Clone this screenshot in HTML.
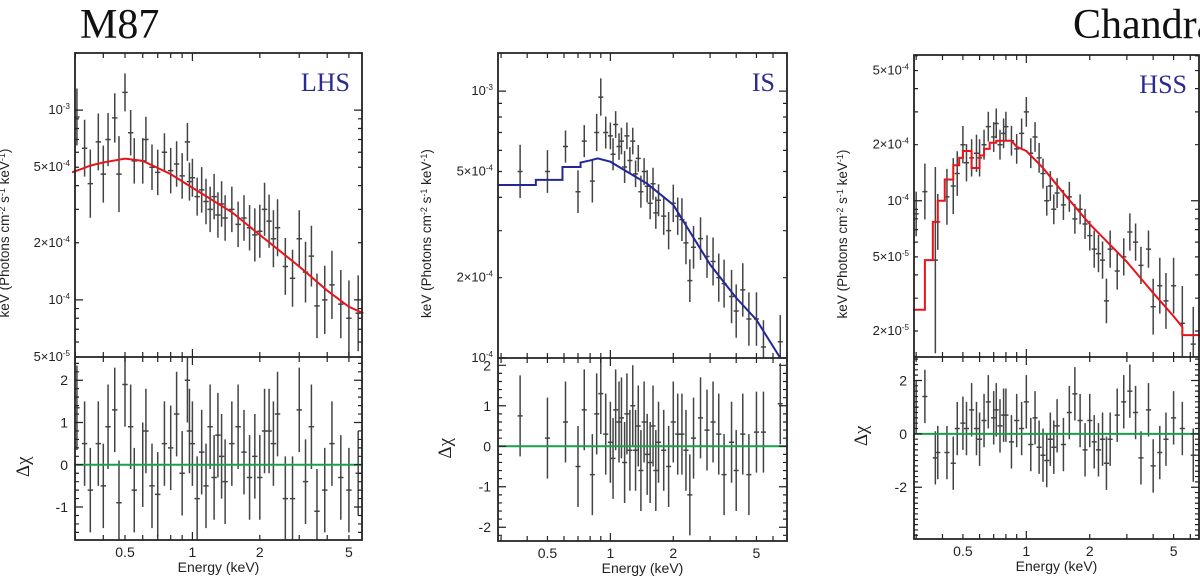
<!DOCTYPE html>
<html><head><meta charset="utf-8">
<style>
html,body{margin:0;padding:0;background:#fff;width:1200px;height:576px;overflow:hidden}
svg{display:block}
text{font-family:"Liberation Sans",sans-serif}
</style></head>
<body>
<svg id="fig" width="1200" height="576" viewBox="0 0 1200 576" xmlns="http://www.w3.org/2000/svg">
<text x="80" y="38" font-size="42" fill="#111" style="font-family:'Liberation Serif',serif">M87</text>
<text x="1073" y="38" font-size="42" fill="#111" style="font-family:'Liberation Serif',serif">Chandra</text>
</svg>
<script>
// ---------- Panel 1 (LHS) data ----------
const p1E = [0.305,0.33,0.35,0.38,0.4,0.42,0.45,0.47,0.5,0.53,0.55,0.6,0.62,0.66,0.7,0.75,0.8,0.85,0.9,0.95,0.97,1.0,1.05,1.1,1.15,1.2,1.25,1.3,1.35,1.4,1.5,1.6,1.7,1.8,1.9,2.0,2.1,2.2,2.3,2.4,2.6,2.8,3.0,3.2,3.4,3.6,3.9,4.2,4.6,5.0,5.5];
const p1F = [9.2,6.3,4.1,6.8,4.6,7,9.1,4.6,12.4,7.6,5.4,5.4,7,5,4.7,6,4.8,5.2,4.5,6.8,4.2,4.4,3.5,3.8,3.3,3.0,3.5,2.8,3.2,2.7,3.0,2.5,2.7,2.4,2.2,2.3,3.0,2.6,2.1,2.4,1.5,1.3,2.1,1.4,1.7,0.93,1.0,1.2,0.95,0.8,0.85];
const p1FErr = [.15,.15,.18,.15,.15,.14,.13,.2,.1,.12,.12,.12,.12,.12,.12,.1,.12,.12,.12,.1,.1,.1,.1,.12,.12,.12,.12,.12,.12,.12,.12,.12,.12,.12,.14,.14,.14,.14,.15,.15,.15,.15,.15,.16,.16,.17,.18,.18,.18,.2,.2];
const p1R = [1.35,0.5,-0.6,0.5,-0.5,0.9,1.3,-0.9,1.9,0.9,-0.6,0,0.8,-0.5,-0.7,0.5,0.4,1.2,-0.2,2,0.8,0.5,-0.8,0.3,-0.5,0.9,-0.3,0.7,0.2,-0.4,0.5,0.9,0.3,-0.3,0.2,-0.3,0.8,0.8,0.5,1.2,-0.8,-0.8,1.3,-0.4,0.9,-1.1,-0.6,0.5,-0.3,-0.6,-0.2];
const p1ModelE = [0.29,0.32,0.35,0.4,0.5,0.6,0.8,1,1.5,2,3,4,5,5.8];
const p1ModelF = [4.7,4.9,5.1,5.3,5.55,5.4,4.6,3.9,2.9,2.2,1.5,1.12,0.92,0.85];
// ---------- Panel 2 (IS) data ----------
const p2E = [0.37,0.5,0.61,0.7,0.75,0.82,0.86,0.9,0.95,1.0,1.03,1.06,1.1,1.13,1.17,1.2,1.24,1.28,1.32,1.36,1.4,1.45,1.5,1.55,1.6,1.65,1.7,1.8,1.9,2.0,2.1,2.2,2.3,2.4,2.5,2.7,2.9,3.1,3.3,3.5,3.8,4.0,4.3,4.6,5.0,5.4,6.5];
const p2F = [5,5,6.2,4.2,6.5,4.6,7,9.5,7,6.8,5.8,7.5,6.2,6.5,5.2,6.8,5.5,6.5,4.9,5.6,4.2,5,4.4,3.8,4.5,3.5,3.9,3.4,3.0,3.8,3.4,3.3,2.7,1.95,2.6,2.8,2.4,2.3,2.0,1.9,1.7,1.5,1.8,1.4,1.4,1.1,1.15];
const p2FErr = [.1,.08,.06,.08,.06,.08,.07,.07,.06,.05,.06,.05,.05,.05,.06,.05,.05,.05,.05,.05,.06,.05,.06,.06,.06,.06,.06,.07,.07,.07,.07,.08,.08,.08,.08,.08,.08,.09,.09,.09,.1,.1,.1,.1,.1,.1,.1];
const p2R = [0.75,0.2,0.6,-0.5,0.9,-0.7,0.8,1.3,0.3,0.1,-0.3,0.9,0.6,0.7,-0.4,0.8,-0.1,1.0,-0.1,0.5,-0.6,0.6,-0.2,-0.4,0.5,-0.6,0.1,-0.1,-0.5,0.6,0.3,0.3,-0.1,-1.2,0.2,0.7,0.4,0.6,0.3,-0.7,0.1,-0.6,0.3,-0.7,0.35,0.35,1.05];
const p2ModelE = [0.29,0.44,0.44,0.59,0.59,0.72,0.72,0.8,0.87,1,1.5,2,3,4,5,6.5];
const p2ModelF = [4.45,4.45,4.65,4.65,5.2,5.2,5.4,5.5,5.6,5.44,4.5,3.75,2.24,1.68,1.39,1.0];
// ---------- Panel 3 (HSS) data ----------
const p3E = [0.3,0.33,0.37,0.38,0.42,0.45,0.47,0.5,0.52,0.55,0.58,0.6,0.63,0.66,0.7,0.72,0.75,0.78,0.8,0.85,0.9,0.95,1.0,1.05,1.1,1.15,1.2,1.25,1.3,1.35,1.4,1.5,1.6,1.7,1.8,1.9,2.0,2.1,2.2,2.3,2.4,2.5,2.7,2.9,3.1,3.3,3.5,3.8,4.0,4.3,4.6,5.0,5.5,6.2];
const p3F = [8.5,11.2,4.8,7.7,10.5,12,14,20,16,17,18,17,20,25,22,26,20,23,25,21,19,23,30,18,22,17,14,10,12,9,11,9.5,10.5,8,9,7.5,6.5,5.5,5.2,4.8,2.9,5.5,4.2,5.0,6.8,6.0,4.5,5.5,2.7,3.5,2.9,3.5,2.2,1.7];
const p3FErr = [.12,.15,.5,.15,.15,.15,.12,.1,.1,.1,.1,.1,.08,.08,.08,.08,.08,.08,.08,.08,.08,.08,.08,.08,.08,.08,.08,.08,.08,.08,.08,.08,.08,.08,.08,.08,.08,.1,.1,.1,.12,.1,.1,.1,.1,.1,.1,.1,.15,.15,.15,.15,.2,.2];
const p3R = [1.0,1.4,-0.9,-0.7,-0.7,-1.1,0.2,0.4,0.2,0.9,0.2,-0.2,0.5,1.2,0.6,0.9,0.3,0.7,0.7,-0.3,0.5,0.2,1.2,-0.4,0.6,-0.5,-0.8,-1.0,-0.2,-0.5,0.3,-0.4,0.8,1.5,0.5,-0.6,0.5,-0.3,-0.6,-0.2,-1.1,-0.2,0.7,1.2,1.6,0.8,-0.9,0.9,-1.2,-0.7,-0.2,0.6,0.2,-0.8];
const p3ModelE = [0.29,0.33,0.33,0.36,0.36,0.38,0.38,0.41,0.41,0.45,0.45,0.48,0.48,0.5,0.5,0.55,0.55,0.6,0.6,0.63,0.63,0.67,0.67,0.72,0.72,0.85,0.9,1,1.2,1.5,2,3,4,5,5.5,5.5,6.7];
const p3ModelF = [2.6,2.6,4.8,4.8,7.7,7.7,10,10,13,13,15.5,15.5,17,17,18.5,18.5,15,15,17.5,17.5,19,19,20.5,20.5,21,21,19.5,18.5,15,11,7.5,4.7,3.2,2.4,2.1,1.9,1.9];

const NS = "http://www.w3.org/2000/svg";
const svg = document.getElementById('fig');
function mk(tag, attrs, parent){ const e=document.createElementNS(NS,tag); for(const k in attrs) e.setAttribute(k,attrs[k]); (parent||svg).appendChild(e); return e; }

function drawPanel(c){
  const g = mk('g',{});
  
  
  const lx0=Math.log10(c.xmin), lx1=Math.log10(c.xmax);
  const X = e => c.L + (Math.log10(e)-lx0)/(lx1-lx0)*(c.R-c.L);
  const ly0=Math.log10(c.ymin), ly1=Math.log10(c.ymax);
  const Y = v => c.M - (Math.log10(v)-ly0)/(ly1-ly0)*(c.M-c.T);
  const RY = r => c.M + (c.rmax-r)/(c.rmax-c.rmin)*(c.B-c.M);
  for(let i=0;i<c.E.length;i++){
    const e=c.E[i], f=c.F[i]*c.scale, d=c.FErr[i];
    const hw=0.012;
    const x=X(e), xa=X(e*Math.pow(10,-hw)), xb=X(e*Math.pow(10,hw));
    const y1=Math.max(c.T,Y(f*Math.pow(10,d))), y2=Math.min(c.M,Y(f*Math.pow(10,-d)));
    const p=mk('path',{d:`M${x},${y1}V${y2}M${xa},${Y(f)}H${xb}`,stroke:'#444','stroke-width':1.5,fill:'none'},g);
    
    
    const r=c.Rs[i];
    const ry1=Math.max(c.M,RY(r+1)), ry2=Math.min(c.B,RY(r-1));
    const q=mk('path',{d:`M${x},${ry1}V${ry2}M${xa},${RY(r)}H${xb}`,stroke:'#444','stroke-width':1.5,fill:'none'},g);
    
    
  }
  let d='';
  for(let i=0;i<c.ME.length;i++){ d+=(i?'L':'M')+X(c.ME[i])+','+Y(c.MF[i]*c.scale); }
  const m=mk('path',{d:d,stroke:c.mcol,'stroke-width':2,fill:'none'},g);
  
  
  const z=mk('line',{x1:c.L,x2:c.R,y1:RY(0),y2:RY(0),stroke:'#1aa04a','stroke-width':2},g);
  
  
  const fr=mk('path',{d:`M${c.L},${c.T}H${c.R}V${c.B}H${c.L}ZM${c.L},${c.M}H${c.R}`,stroke:'#222','stroke-width':1.8,fill:'none'},g);
  
  
  let td='';
  const minors=[0.3,0.4,0.5,0.6,0.7,0.8,0.9,1,2,3,4,5,6,7];
  minors.forEach(v=>{ if(v<c.xmin||v>c.xmax) return; const x=X(v); const big=(v===1)?8:5;
    td+=`M${x},${c.T}v${big}M${x},${c.B}v-${big}M${x},${c.M}v-${big}M${x},${c.M}v${big}`; });
  for(let dec=-6;dec<=-2;dec++) for(let k=1;k<10;k++){ const v=k*Math.pow(10,dec); if(v<c.ymin||v>c.ymax) continue; const y=Y(v); const l=k===1?8:4; td+=`M${c.L},${y}h${l}M${c.R},${y}h-${l}`; }
  for(let r=Math.ceil(c.rmin*5)/5;r<=c.rmax;r+=0.2){ const y=RY(r); const major=Math.abs(r-Math.round(r))<1e-6 && Math.round(r)%c.rstep===0; const l=major?8:4; td+=`M${c.L},${y}h${l}M${c.R},${y}h-${l}`; }
  const t=mk('path',{d:td,stroke:'#222','stroke-width':1.2,fill:'none'},g);
  
  
  c.xt.forEach(v=>{ const tx=mk('text',{x:X(v),y:c.B+17,'font-size':14,'text-anchor':'middle',fill:'#222'},g); tx.textContent=String(v);
    
     });
  c.yt.forEach((v,i)=>{ const tx=mk('text',{x:c.L-5,y:Y(v)+4,'font-size':13,'text-anchor':'end',fill:'#222'},g);
    tx.innerHTML=c.ytl[i][0]+'<tspan dy="-5" font-size="8">'+c.ytl[i][1]+'</tspan>';
    
     });
  c.rt.forEach(v=>{ const tx=mk('text',{x:c.L-7,y:RY(v)+5,'font-size':14,'text-anchor':'end',fill:'#222'},g); tx.textContent=String(v);
    
     });
  const xl=mk('text',{x:(c.L+c.R)/2,y:c.B+32,'font-size':14,'text-anchor':'middle',fill:'#222'},g); xl.textContent='Energy (keV)';
  
  
  const yl=mk('text',{x:0,y:0,'font-size':13.5,'text-anchor':'middle',fill:'#222',transform:`translate(${c.ylx},${(c.T+c.M)/2+28}) rotate(-90)`},g);
  yl.innerHTML='keV (Photons cm<tspan dy="-4" font-size="9">-2</tspan><tspan dy="4"> s</tspan><tspan dy="-4" font-size="9">-1</tspan><tspan dy="4"> keV</tspan><tspan dy="-4" font-size="9">-1</tspan><tspan dy="4">)</tspan>';
  
  
  const rl=mk('text',{x:0,y:0,'font-size':19,'text-anchor':'middle',fill:'#222',style:"font-family:'Liberation Serif',serif",transform:`translate(${c.ylx+20},${RY(0)+2}) rotate(-90)`},g);
  rl.textContent='Δχ';
  
  
  const st=mk('text',{x:c.R-12,y:c.T+38,'font-size':26,'text-anchor':'end',fill:'#2b2b8f',style:"font-family:'Liberation Serif',serif"},g);
  st.textContent=c.label;
  
  
}

drawPanel({name:'lhs',label:'LHS',L:75,R:362,T:53,M:357,B:540,xmin:0.299,xmax:5.72,ymin:5e-5,ymax:2.0e-3,rmin:-1.78,rmax:2.55,rstep:1,
  E:p1E,F:p1F,FErr:p1FErr,Rs:p1R,ME:p1ModelE,MF:p1ModelF,scale:1e-4,mcol:'#e8141c',
  xt:[0.5,1,2,5],yt:[1e-3,5e-4,2e-4,1e-4,5e-5],ytl:[['10','-3'],['5×10','-4'],['2×10','-4'],['10','-4'],['5×10','-5']],rt:[2,1,0,-1],ylx:9});
drawPanel({name:'is',label:'IS',L:498,R:787,T:53,M:358,B:541,xmin:0.29,xmax:7.0,ymin:1e-4,ymax:1.39e-3,rmin:-2.34,rmax:2.18,rstep:1,
  E:p2E,F:p2F,FErr:p2FErr,Rs:p2R,ME:p2ModelE,MF:p2ModelF,scale:1e-4,mcol:'#22289a',
  xt:[0.5,1,2,5],yt:[1e-3,5e-4,2e-4,1e-4],ytl:[['10','-3'],['5×10','-4'],['2×10','-4'],['10','-4']],rt:[2,1,0,-1,-2],ylx:431});
drawPanel({name:'hss',label:'HSS',L:914,R:1199,T:55,M:357,B:539,xmin:0.293,xmax:6.6,ymin:1.45e-5,ymax:6.06e-4,rmin:-3.94,rmax:2.88,rstep:2,
  E:p3E,F:p3F,FErr:p3FErr,Rs:p3R,ME:p3ModelE,MF:p3ModelF,scale:1e-5,mcol:'#e8141c',
  xt:[0.5,1,2,5],yt:[5e-4,2e-4,1e-4,5e-5,2e-5],ytl:[['5×10','-4'],['2×10','-4'],['10','-4'],['5×10','-5'],['2×10','-5']],rt:[2,0,-2],ylx:847});
</script>
</body></html>
